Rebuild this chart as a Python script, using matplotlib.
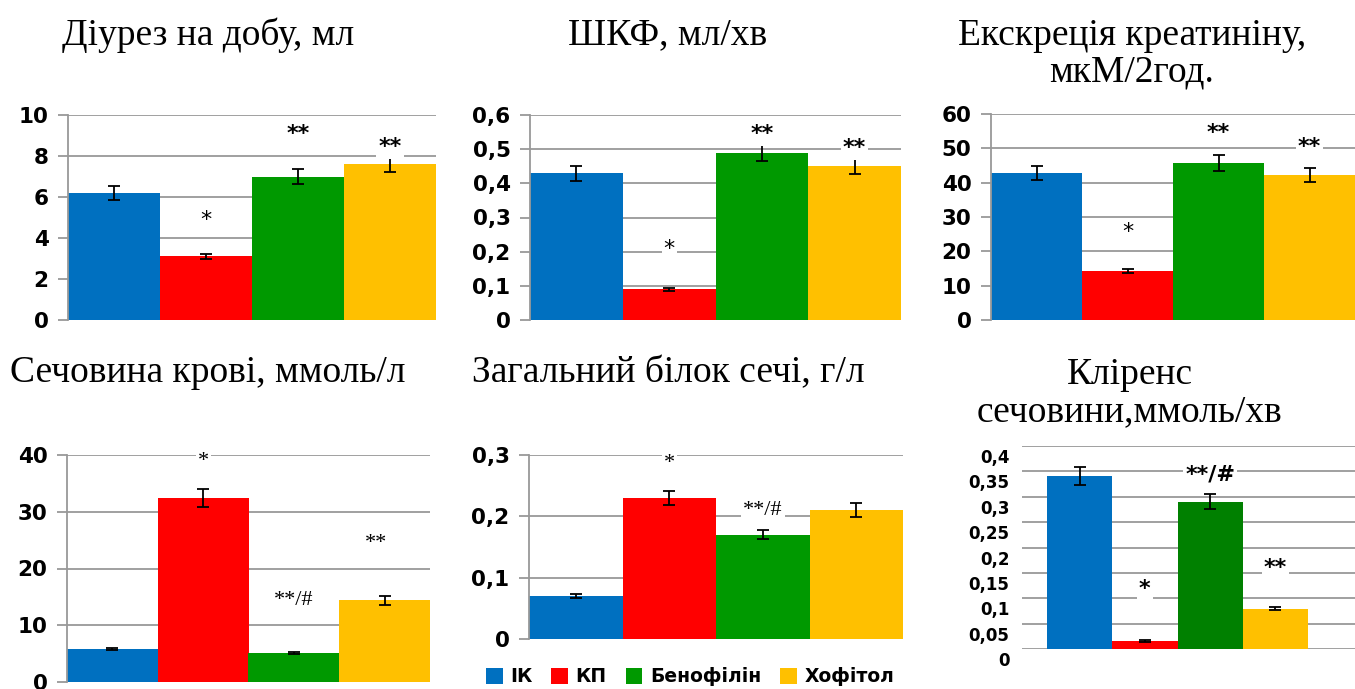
import matplotlib
matplotlib.use('Agg')
import matplotlib.pyplot as plt
from matplotlib.patches import Patch
from matplotlib.transforms import ScaledTranslation

W, H = 1355, 689

groups = ['ІК', 'КП', 'Бенофілін', 'Хофітол']
colors = ['#0070C0', '#FF0000', '#009900', '#FFC000']
colors6 = ['#0070C0', '#FF0000', '#008000', '#FFC000']

# values and errors
diuresis = [6.2, 3.1, 7.0, 7.6]
diuresis_err = [0.33, 0.12, 0.35, 0.37]
gfr = [0.43, 0.09, 0.49, 0.45]
gfr_err = [0.022, 0.005, 0.025, 0.022]
creat = [42.9, 14.3, 45.8, 42.3]
creat_err = [2.1, 0.7, 2.3, 2.0]
urea = [5.8, 32.4, 5.1, 14.4]
urea_err = [0.2, 1.6, 0.15, 0.75]
protein = [0.07, 0.23, 0.17, 0.21]
protein_err = [0.003, 0.011, 0.007, 0.011]
clearance = [0.341, 0.016, 0.29, 0.079]
clearance_err = [0.017, 0.002, 0.015, 0.003]

titles = ['Діурез на добу, мл', 'ШКФ, мл/хв', 'Екскреція креатиніну,\nмкМ/2год.',
          'Сечовина крові, ммоль/л', 'Загальний білок сечі, г/л', 'Кліренс\nсечовини,ммоль/хв']

ticks1 = [0, 2, 4, 6, 8, 10]
ticks2 = [0, 0.1, 0.2, 0.3, 0.4, 0.5, 0.6]
ticks3 = [0, 10, 20, 30, 40, 50, 60]
ticks4 = [0, 10, 20, 30, 40]
ticks5 = [0, 0.1, 0.2, 0.3]
ticks6 = [0, 0.05, 0.1, 0.15, 0.2, 0.25, 0.3, 0.35, 0.4]

# significance marks: (text, bar position, y)
marks1 = [('*', 1, 4.97), ('**', 2, 9.17), ('**', 3, 8.54)]
marks2 = [('*', 1, 0.214), ('**', 2, 0.55), ('**', 3, 0.509)]
marks3 = [('*', 1, 26.2), ('**', 2, 55), ('**', 3, 51)]
marks4 = [('*', 1, 39.3), ('**/#', 2, 14.8), ('**', 2.9, 24.8)]
marks5 = [('*', 1, 0.29), ('**/#', 2, 0.214)]
marks6 = [('*', 1, 0.122), ('**/#', 2, 0.347), ('**', 3, 0.164)]


def px_axes(l, r, t, b):
    return [l / W, 1 - b / H, (r - l) / W, (b - t) / H]


fig = plt.figure(figsize=(W / 100, H / 100), dpi=100)

panels = [
    (px_axes(68, 436, 115, 320), diuresis, diuresis_err, ticks1, marks1, 'sans'),
    (px_axes(530, 901, 115, 320), gfr, gfr_err, ticks2, marks2, 'sans'),
    (px_axes(991, 1355, 114, 320), creat, creat_err, ticks3, marks3, 'sans'),
    (px_axes(67, 430, 455, 682), urea, urea_err, ticks4, marks4, 'serif'),
    (px_axes(529, 903, 455, 639), protein, protein_err, ticks5, marks5, 'serif'),
    (px_axes(1022, 1355, 446, 649), clearance, clearance_err, ticks6, marks6, 'bold'),
]

for i, (pos, vals, errs, ticks, marks, mstyle) in enumerate(panels):
    ax = fig.add_axes(pos)
    cols = colors6 if i == 5 else colors
    x = list(range(len(groups)))
    ax.bar(x, vals, width=1.0, color=cols, zorder=2)
    ax.errorbar(x, vals, yerr=errs, fmt='none', ecolor='black', elinewidth=1.3,
                capsize=4, capthick=1.3, zorder=3)
    ax.set_ylim(ticks[0], ticks[-1])
    ax.set_yticks(ticks)
    ax.set_yticklabels([('%g' % t).replace('.', ',') for t in ticks])
    ax.set_xticks([])
    ax.yaxis.grid(True, color='#999999', linewidth=1.3, zorder=0)
    ax.set_axisbelow(True)
    for s in ['top', 'right', 'bottom']:
        ax.spines[s].set_visible(False)
    if i == 5:
        ax.set_xlim(-0.883, 4.22)
        ax.spines['left'].set_visible(False)
        ax.tick_params(axis='y', length=0, pad=9)
        for lab in ax.get_yticklabels():
            lab.set_fontfamily('DejaVu Sans')
            lab.set_fontweight('bold')
            lab.set_fontsize(12)
            lab.set_transform(lab.get_transform() + ScaledTranslation(0, -0.10, fig.dpi_scale_trans))
    else:
        ax.set_xlim(-0.5, 3.5)
        ax.spines['left'].set_color('#999999')
        ax.spines['left'].set_linewidth(1.3)
        ax.tick_params(axis='y', length=7, width=1.3, color='#999999', pad=7)
        for lab in ax.get_yticklabels():
            lab.set_fontfamily('DejaVu Sans')
            lab.set_fontweight('bold')
            lab.set_fontsize(15.5)
    for txt, mx, my in marks:
        if mstyle == 'serif':
            kw = dict(fontfamily='Liberation Serif', fontsize=16)
        elif mstyle == 'bold' or txt != '*':
            kw = dict(fontfamily='DejaVu Sans', fontsize=16, fontweight='bold')
        else:
            kw = dict(fontfamily='DejaVu Sans', fontsize=16)
        ax.text(mx, my, txt, ha='center', va='center_baseline', zorder=4,
                bbox=dict(facecolor='white', edgecolor='none', pad=1.5), **kw)

# titles
title_pos = [(208, 35), (668, 35), (1132, 54), (208, 373), (668, 373), (1130, 393)]
for t, (tx, ty) in zip(titles, title_pos):
    fig.text(tx / W, 1 - ty / H, t, ha='center', va='center', fontfamily='Liberation Serif',
             fontsize=27, linespacing=1.1)

handles = [Patch(facecolor=c, edgecolor='none') for c in colors]
leg = fig.legend(handles, groups, loc='center', bbox_to_anchor=(690 / W, 1 - 677 / H),
                 ncol=4, frameon=False, handlelength=0.9, handleheight=0.9,
                 handletextpad=0.4, columnspacing=1.0,
                 prop={'family': 'DejaVu Sans', 'weight': 'bold', 'size': 13.5})

fig.savefig('out.png', dpi=100)
